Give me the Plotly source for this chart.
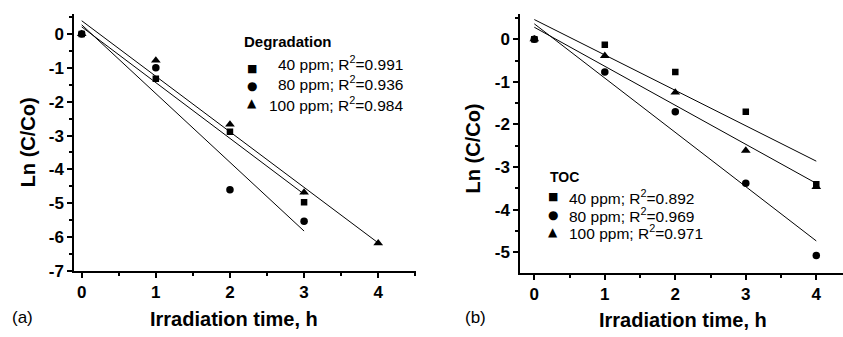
import plotly.graph_objects as go

# ---------------- data ----------------
t_a = [0, 1, 2, 3]
t_a100 = [0, 1, 2, 3, 4]
deg_40 = [0, -1.32, -2.89, -4.97]
deg_80 = [0, -1.0, -4.6, -5.53]
deg_100 = [0, -0.78, -2.67, -4.68, -6.18]

# fitted lines (end points)
fit_a40_x = [0, 3];   fit_a40_y = [0.21, -4.73]
fit_a80_x = [0, 3];   fit_a80_y = [0.27, -5.82]
fit_a100_x = [0, 4];  fit_a100_y = [0.39, -6.17]

t_b = [0, 1, 2, 3, 4]
toc_40 = [0, -0.13, -0.77, -1.70, -3.40]
toc_80 = [0, -0.77, -1.70, -3.38, -5.07]
toc_100 = [0, -0.39, -1.25, -2.61, -3.46]

fit_b40_x = [0, 4];   fit_b40_y = [0.46, -2.86]
fit_b80_x = [0, 4];   fit_b80_y = [0.36, -4.73]
fit_b100_x = [0, 4];  fit_b100_y = [0.28, -3.38]

deg_labels = ["40 ppm; R<sup>2</sup>=0.991", "80 ppm; R<sup>2</sup>=0.936", "100 ppm; R<sup>2</sup>=0.984"]
toc_labels = ["40 ppm; R<sup>2</sup>=0.892", "80 ppm; R<sup>2</sup>=0.969", "100 ppm; R<sup>2</sup>=0.971"]
x_ticks = [0, 1, 2, 3, 4]
ya_ticks = [0, -1, -2, -3, -4, -5, -6, -7]
yb_ticks = [0, -1, -2, -3, -4, -5]

W, H = 843, 337
FONT = "Liberation Sans, Arial, sans-serif"
SYMFONT = "DejaVu Sans"

def px(x):
    return x / W

def py(y):
    return 1 - y / H

fig = go.Figure()

def add_points(x, y, symbol, size, xa, ya):
    fig.add_trace(go.Scatter(x=x, y=y, mode="markers", xaxis=xa, yaxis=ya,
                             marker=dict(symbol=symbol, size=size, color="black"),
                             showlegend=False, hoverinfo="skip"))

def add_line(x, y, xa, ya):
    fig.add_trace(go.Scatter(x=x, y=y, mode="lines", xaxis=xa, yaxis=ya,
                             line=dict(color="black", width=1),
                             showlegend=False, hoverinfo="skip"))

# panel (a)
add_line(fit_a40_x, fit_a40_y, "x", "y")
add_line(fit_a80_x, fit_a80_y, "x", "y")
add_line(fit_a100_x, fit_a100_y, "x", "y")
add_points(t_a, deg_40, "square", 6.5, "x", "y")
add_points(t_a, deg_80, "circle", 7.5, "x", "y")
add_points(t_a100, deg_100, "triangle-up", 8.5, "x", "y")

# panel (b)
add_line(fit_b40_x, fit_b40_y, "x2", "y2")
add_line(fit_b80_x, fit_b80_y, "x2", "y2")
add_line(fit_b100_x, fit_b100_y, "x2", "y2")
add_points(t_b, toc_40, "square", 6.5, "x2", "y2")
add_points(t_b, toc_80, "circle", 7.5, "x2", "y2")
add_points(t_b, toc_100, "triangle-up", 8.5, "x2", "y2")

xa_rng = [-0.104, 4.51]
ya_rng = [-7, 0.602]
xb_rng = [-0.203, 4.379]
yb_rng = [-5.49, 0.6]

dom_xa = [px(74), px(416)]
dom_ya = [py(279.3), py(14)]
dom_xb = [px(520), 1.0]
dom_yb = [py(281.7), py(14)]

tickfont = dict(family=FONT, size=17, color="black")
LW = 1.5

def main_axis(rng, dom, vals, anchor):
    return dict(range=rng, domain=dom, anchor=anchor, tickmode="array", tickvals=vals,
                ticktext=["<b>%g</b>" % v for v in vals],
                ticks="outside", ticklen=5, tickwidth=LW, tickcolor="black",
                showline=True, linecolor="black", linewidth=LW,
                showgrid=False, zeroline=False, tickfont=tickfont,
                minor=dict(ticks="outside", ticklen=3, tickwidth=LW, tickcolor="black",
                           dtick=0.5, showgrid=False),
                fixedrange=True)

def mirror_axis(rng, overlay, anchor, side, vals):
    return dict(range=rng, overlaying=overlay, anchor=anchor, side=side,
                tickmode="array", tickvals=vals,
                ticks="inside", ticklen=5, tickwidth=LW, tickcolor="black",
                showline=True, linecolor="black", linewidth=LW,
                showticklabels=False, showgrid=False, zeroline=False,
                minor=dict(ticks="inside", ticklen=3, tickwidth=LW, tickcolor="black",
                           dtick=0.5, showgrid=False),
                fixedrange=True)

annotations = []

def ann(text, x, y, size, bold=False, xanchor="center", yanchor="middle", angle=0, family=FONT):
    annotations.append(dict(text=text, x=px(x), y=py(y), xref="paper", yref="paper",
                            xanchor=xanchor, yanchor=yanchor, showarrow=False, textangle=angle,
                            font=dict(family=family, size=size, color="black",
                                      weight="bold" if bold else "normal")))

# axis titles
ann("Irradiation time, h", 233.8, 328.5, 20, bold=True)
ann("Irradiation time, h", 683, 329.5, 20, bold=True)
ann("Ln (C/Co)", 28, 146.7, 20, bold=True, angle=-90)
ann("Ln (C/Co)", 473, 153, 20, bold=True, angle=-90)
ann("(a)", 22.5, 327, 17)
ann("(b)", 475.5, 327, 17)

# legend (a)
symbols = ["\u25A0", "\u25CF", "\u25B2"]
sym_sizes = [11, 12, 12]
ann("Degradation", 242, 42.7, 15, bold=True, xanchor="left")
for i, (lab, gy, ty) in enumerate(zip(deg_labels, [70.7, 88.3, 106], [65, 86, 107.3])):
    ann(symbols[i], 252, gy, sym_sizes[i], family=SYMFONT)
    ann(lab, 405, ty, 15.5, xanchor="right")

# legend (b)
ann("TOC", 548.3, 182.7, 14, bold=True, xanchor="left")
for i, (lab, gy) in enumerate(zip(toc_labels, [202.7, 221.7, 239.3])):
    ann(symbols[i], 552.7, gy, sym_sizes[i], family=SYMFONT)
    ann(lab, 566.5, gy, 15.5, xanchor="left")

fig.update_layout(
    width=W, height=H,
    margin=dict(l=0, r=0, t=0, b=0),
    paper_bgcolor="white", plot_bgcolor="white",
    showlegend=False,
    font=dict(family=FONT, color="black"),
    xaxis=main_axis(xa_rng, dom_xa, x_ticks, "y"),
    yaxis=main_axis(ya_rng, dom_ya, ya_ticks, "x"),
    xaxis2=main_axis(xb_rng, dom_xb, x_ticks, "y2"),
    yaxis2=main_axis(yb_rng, dom_yb, yb_ticks, "x2"),
    xaxis3=mirror_axis(xa_rng, "x", "y", "top", x_ticks),
    yaxis3=mirror_axis(ya_rng, "y", "x", "right", ya_ticks),
    xaxis4=mirror_axis(xb_rng, "x2", "y2", "top", x_ticks),
    annotations=annotations,
)

fig.write_html("out.html", include_plotlyjs=True, config={"displayModeBar": False})
